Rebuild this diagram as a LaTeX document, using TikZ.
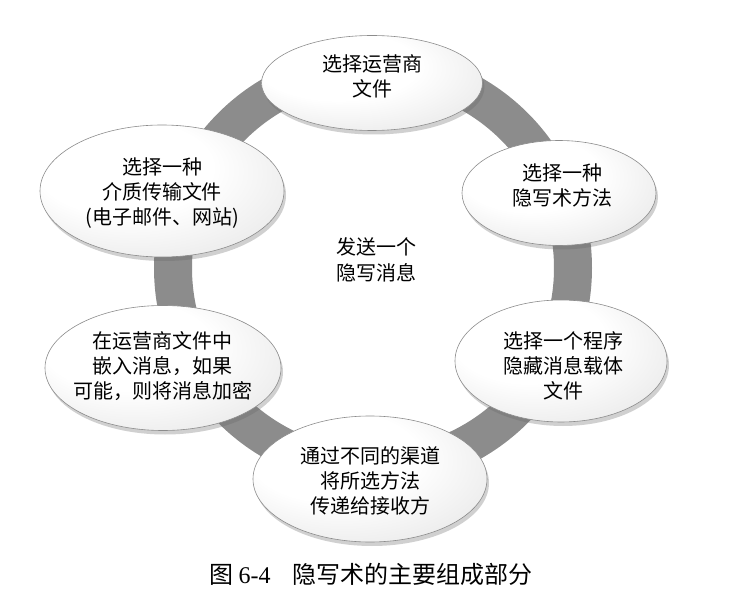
\documentclass[tikz,border=0pt]{standalone}
\usepackage{fontspec}
\setmainfont{Noto Sans CJK SC}
\newfontfamily\cjk{Noto Sans CJK SC}
\newfontfamily\numfont{Liberation Serif}
\usetikzlibrary{shapes.geometric,shadows}
\pgfdeclareradialshading{bubbleshade}{\pgfpoint{-12bp}{14bp}}{%
  color(0bp)=(white); color(18bp)=(white); color(34bp)=(black!8); color(50bp)=(black!30)}
\tikzset{
  bubble/.style={ellipse, draw=black!45, line width=0.6pt, inner sep=0pt,
    shading=bubbleshade,
    drop shadow={shadow xshift=2pt, shadow yshift=-4pt, opacity=0.3, fill=black!60}},
  btext/.style={align=center, font=\cjk\fontsize{20pt}{25pt}\selectfont},
  ringband/.style={draw={rgb,255:red,140;green,140;blue,140}, line width=38pt},
  plain/.style={align=center, font=\cjk\fontsize{20pt}{26pt}\selectfont}
}
\begin{document}
\begin{tikzpicture}[x=1pt,y=-1pt]
\useasboundingbox[fill=white] (0,0) rectangle (740,615);
\coordinate (ringc) at (373,268);
\draw[ringband] (ringc) circle[radius=200pt];
\node[plain] (center) at (376,260) {发送一个\\隐写消息};
\node[bubble, minimum width=221pt, minimum height=95pt] (e1) at (372,83) {};
\node[btext] (t1) at (372,76) {选择运营商\\文件};
\node[bubble, minimum width=194pt, minimum height=105pt] (e2) at (559,193) {};
\node[btext] (t2) at (562,185) {选择一种\\隐写术方法};
\node[bubble, minimum width=212pt, minimum height=122pt] (e3) at (561,361) {};
\node[btext] (t3) at (563,366) {选择一个程序\\隐藏消息载体\\文件};
\node[bubble, minimum width=234pt, minimum height=126pt] (e4) at (370,479) {};
\node[btext] (t4) at (370,481) {通过不同的渠道\\将所选方法\\传递给接收方};
\node[bubble, minimum width=236pt, minimum height=125pt] (e5) at (163,368) {};
\node[btext] (t5) at (163,366) {在运营商文件中\\嵌入消息，如果\\可能，则将消息加密};
\node[bubble, minimum width=244pt, minimum height=132pt] (e6) at (162,191) {};
\node[btext] (t6) at (162,193) {选择一种\\介质传输文件\\(电子邮件、网站)};
\node[font=\cjk\fontsize{24pt}{28pt}\selectfont, anchor=center] (cap) at (371,574) {图 {\numfont 6-4}\hspace{22pt}隐写术的主要组成部分};
\end{tikzpicture}
\end{document}
